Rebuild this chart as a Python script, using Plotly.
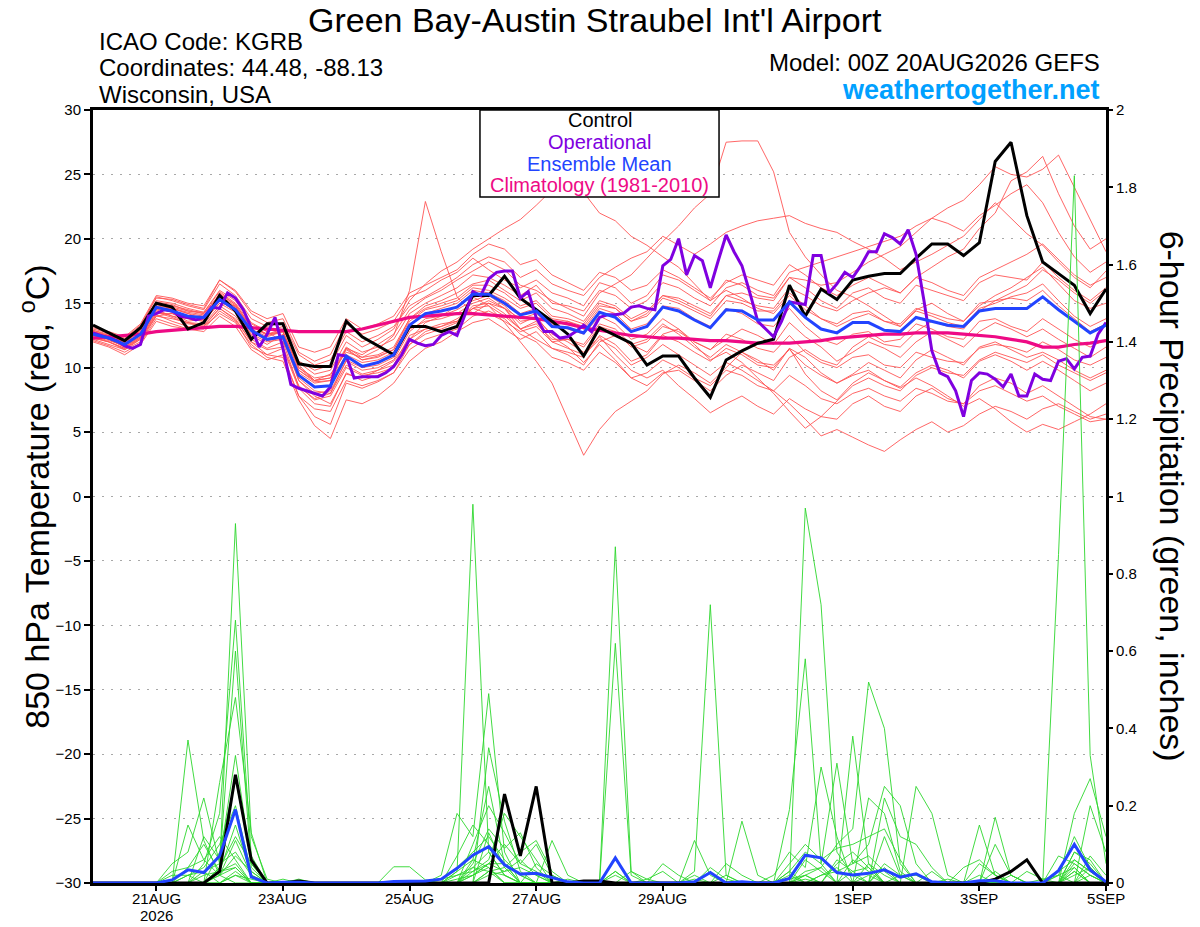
import pandas as pd
import plotly.graph_objects as go

# 6-hourly GEFS steps, 00Z 20AUG2026 .. 00Z 05SEP2026
times = pd.date_range("2026-08-20 00:00", periods=65, freq="6h")
times_op = pd.date_range("2026-08-20 00:00", periods=129, freq="3h")

# 850 hPa temperature (C)
control_t = [13.3, 12.7, 12.1, 13.1, 15.0, 14.7, 13.0, 13.5, 15.6, 14.4,
             12.2, 13.4, 13.4, 10.3, 10.1, 10.1, 13.6, 12.4, 11.7, 11.0,
             13.2, 13.2, 12.8, 13.2, 15.6, 15.6, 17.1, 15.4, 14.5, 13.6,
             12.6, 10.9, 13.1, 12.5, 11.9, 10.2, 10.9, 10.9, 9.2, 7.7,
             10.6, 11.3, 11.9, 12.2, 16.4, 14.0, 16.1, 15.3, 16.8, 17.1,
             17.3, 17.3, 18.5, 19.6, 19.6, 18.7, 19.7, 26.0, 27.5, 21.8,
             18.2, 17.3, 16.4, 14.2, 16.1]

oper_t = [12.7, 12.5, 12.3, 12.1, 11.7, 11.5, 11.8, 14.0, 14.2, 14.5,
          14.4, 14.0, 13.9, 13.7, 13.9, 14.7, 14.6, 15.8, 15.4, 14.5,
          13.1, 11.6, 12.6, 13.9, 11.5, 8.7, 8.4, 8.2, 8.0, 7.8,
          8.5, 11.0, 10.9, 9.2, 9.3, 9.3, 9.3, 9.6, 10.1, 11.0,
          12.2, 11.9, 11.7, 11.8, 12.5, 12.8, 12.5, 14.1, 15.9, 15.6,
          16.9, 17.4, 17.5, 17.5, 15.4, 15.9, 13.9, 12.8, 12.8, 12.3,
          12.4, 12.8, 13.3, 12.8, 13.9, 14.1, 14.1, 14.2, 14.7, 14.8,
          14.6, 14.5, 17.9, 18.4, 20.0, 17.2, 18.7, 18.3, 16.2, 18.3,
          20.3, 19.0, 17.9, 15.8, 13.6, 13.0, 12.4, 13.6, 15.1, 15.0,
          14.9, 18.7, 18.7, 15.8, 16.5, 17.4, 17.0, 17.9, 19.0, 19.0,
          20.4, 20.1, 19.6, 20.7, 18.8, 15.2, 11.3, 9.6, 9.3, 8.2,
          6.2, 9.0, 9.6, 9.5, 9.1, 8.5, 9.5, 7.8, 7.8, 9.5,
          9.1, 9.0, 10.5, 10.7, 9.9, 10.8, 10.9, 12.6, 13.5]

mean_t = [12.6, 12.3, 11.8, 12.6, 14.7, 14.4, 14.0, 13.9, 15.3, 14.5,
          12.9, 12.2, 12.4, 9.4, 8.5, 8.6, 10.9, 10.1, 10.4, 11.0,
          13.3, 14.2, 14.4, 14.7, 15.7, 15.7, 15.0, 14.1, 14.4, 13.2,
          13.1, 12.7, 14.3, 13.9, 12.8, 13.2, 14.7, 14.4, 13.7, 13.1,
          14.5, 14.4, 13.7, 13.7, 15.1, 13.9, 13.0, 12.7, 13.5, 13.5,
          12.9, 12.8, 13.9, 13.6, 13.3, 13.2, 14.4, 14.6, 14.6, 14.6,
          15.5, 14.5, 13.6, 12.7, 13.3]

clim_t = [12.3, 12.4, 12.5, 12.6, 12.8, 12.9, 13.0, 13.1, 13.2, 13.2,
          13.1, 13.0, 12.9, 12.8, 12.8, 12.8, 12.8, 13.0, 13.3, 13.6,
          13.9, 14.0, 14.1, 14.2, 14.2, 14.1, 14.0, 13.9, 13.8, 13.6,
          13.4, 13.1, 12.9, 12.7, 12.5, 12.4, 12.3, 12.3, 12.2, 12.1,
          12.1, 12.0, 11.9, 11.9, 11.9, 12.0, 12.1, 12.3, 12.4, 12.5,
          12.6, 12.6, 12.7, 12.7, 12.7, 12.6, 12.5, 12.4, 12.2, 12.0,
          11.6, 11.6, 11.8, 11.9, 12.1]

member_t = [
    [12.9, 12.5, 12.0, 13.0, 15.2, 15.0, 14.6, 14.3, 16.0, 15.2, 13.5, 12.8, 12.0, 9.8, 8.9,
     9.0, 11.5, 11.0, 11.8, 12.6, 14.5, 15.4, 16.0, 16.8, 17.5, 18.2, 17.6, 16.4, 16.0, 15.2,
     14.6, 14.0, 15.8, 16.5, 17.2, 18.5, 19.8, 21.0, 22.4, 23.5, 27.5, 27.6, 27.6, 25.2, 20.5,
     18.6, 17.2, 16.0, 15.5, 14.8, 14.0, 13.2, 14.5, 15.0, 14.2, 13.6, 14.8, 15.6, 16.2, 17.0,
     17.8, 16.5, 15.2, 14.6, 15.0],
    [12.3, 12.0, 11.5, 12.2, 14.0, 14.2, 13.6, 13.8, 15.0, 14.8, 12.5, 11.8, 12.6, 10.2, 9.0,
     9.5, 11.2, 10.8, 11.4, 12.5, 16.0, 22.9, 19.0, 15.5, 14.2, 15.0, 14.6, 13.0, 12.2, 11.5,
     11.0, 10.2, 12.0, 12.5, 11.8, 11.2, 12.6, 13.0, 12.0, 11.4, 12.2, 13.0, 12.5, 11.8, 13.5,
     12.4, 11.6, 10.5, 11.2, 12.0, 11.5, 10.8, 12.0, 12.8, 12.2, 11.6, 12.8, 13.5, 13.0, 12.4,
     13.0, 12.2, 11.5, 10.8, 11.6],
    [12.8, 12.4, 11.9, 12.9, 14.5, 14.6, 14.2, 13.7, 15.8, 14.9, 13.2, 12.6, 12.8, 9.0, 7.8,
     7.2, 9.5, 9.2, 9.8, 10.5, 12.2, 13.5, 14.0, 14.8, 15.5, 14.8, 13.5, 12.0, 10.5, 8.8,
     6.0, 3.2, 5.2, 6.6, 7.4, 8.2, 9.5, 10.2, 9.6, 8.8, 10.0, 11.2, 10.6, 9.8, 11.5,
     10.8, 9.6, 8.8, 9.5, 10.4, 9.8, 9.2, 10.6, 11.4, 10.8, 10.2, 11.6, 12.0, 11.4, 10.8,
     11.2, 10.6, 9.8, 9.2, 9.8],
    [12.0, 11.6, 11.0, 11.8, 13.6, 13.2, 13.0, 13.2, 14.2, 13.5, 11.8, 10.8, 10.5, 7.5, 5.5,
     4.5, 7.5, 7.2, 7.8, 8.8, 10.5, 11.5, 12.0, 12.8, 13.5, 13.8, 13.0, 12.2, 12.8, 11.5,
     11.2, 10.8, 12.5, 11.8, 10.5, 11.0, 12.5, 12.0, 11.2, 10.5, 11.5, 11.0, 10.2, 10.0, 11.5,
     9.5, 8.2, 7.5, 8.8, 9.6, 9.0, 8.5, 9.6, 10.2, 9.8, 9.2, 10.5, 11.0, 10.5, 9.8,
     10.5, 9.8, 9.0, 8.2, 8.8],
    [12.5, 12.2, 11.6, 12.4, 14.4, 14.0, 13.5, 13.4, 14.8, 14.0, 12.2, 11.5, 12.0, 8.5, 7.6,
     8.0, 10.2, 9.5, 9.8, 10.2, 12.5, 13.0, 13.2, 13.8, 14.6, 14.2, 13.6, 12.8, 13.2, 12.0,
     11.5, 11.0, 12.2, 11.5, 10.2, 10.8, 11.8, 11.0, 10.2, 9.4, 10.4, 9.8, 9.0, 8.2, 7.2,
     6.0, 4.7, 5.2, 4.6, 4.0, 3.5, 4.4, 5.2, 5.8, 5.0, 5.5, 6.4, 7.0, 6.6, 6.0,
     6.8, 7.2, 6.6, 6.0, 6.4],
    [12.7, 12.4, 11.9, 12.7, 15.0, 14.8, 14.5, 14.2, 15.6, 14.8, 13.0, 12.4, 12.8, 10.0, 9.0,
     9.2, 11.5, 10.6, 10.9, 11.4, 13.8, 14.8, 15.2, 15.8, 16.5, 16.8, 16.0, 15.2, 15.8, 14.6,
     14.2, 13.6, 15.2, 14.8, 13.8, 14.4, 15.6, 15.2, 14.6, 14.0, 15.6, 15.2, 14.8, 14.6, 16.2,
     15.6, 14.8, 14.4, 15.2, 15.8, 16.2, 15.8, 17.0, 17.8, 18.6, 19.2, 20.8, 22.0, 24.5, 25.2,
     26.4, 23.5, 21.0, 19.2, 20.0],
    [12.4, 12.1, 11.7, 12.5, 14.8, 14.6, 14.2, 14.0, 15.5, 14.7, 13.2, 12.6, 13.0, 10.5, 9.8,
     10.2, 12.5, 11.6, 12.2, 13.0, 15.2, 16.5, 17.5, 18.2, 19.2, 20.0, 20.8, 21.5, 22.6, 23.8,
     24.2, 23.6, 22.0, 21.4, 20.2, 19.5, 18.6, 17.8, 16.5, 15.2, 16.0, 15.4, 14.6, 14.2, 15.6,
     14.5, 13.8, 13.2, 13.8, 14.2, 13.6, 13.2, 14.4, 14.0, 13.5, 13.2, 14.6, 15.0, 15.5, 15.8,
     16.5, 15.2, 14.0, 13.2, 13.8],
    [12.9, 12.6, 12.2, 13.2, 15.5, 15.2, 14.8, 14.5, 16.5, 15.6, 13.8, 13.2, 13.5, 11.0, 10.2,
     10.6, 12.8, 12.0, 12.5, 13.2, 14.8, 15.5, 16.2, 17.0, 18.0, 18.6, 18.2, 17.0, 17.6, 16.5,
     16.0, 15.6, 17.0, 17.8, 18.5, 19.0, 20.2, 19.5, 18.8, 19.6, 20.5, 21.0, 21.4, 21.6, 21.8,
     21.2, 20.8, 20.5, 19.8, 19.2, 18.5, 17.6, 18.2, 18.8, 19.5, 20.2, 21.5, 22.8, 21.6, 20.4,
     19.5, 18.2, 17.0, 16.2, 17.5],
    [12.2, 11.8, 11.4, 12.0, 14.0, 13.8, 13.5, 13.2, 14.6, 13.8, 12.0, 11.4, 11.6, 8.6, 7.5,
     7.8, 10.0, 9.4, 9.6, 10.0, 12.2, 13.0, 13.4, 13.6, 14.8, 15.0, 14.2, 13.0, 13.6, 12.0,
     12.2, 11.6, 13.2, 12.8, 11.6, 12.0, 13.2, 12.8, 12.0, 11.4, 12.6, 12.2, 11.5, 11.2, 12.5,
     11.2, 10.4, 10.0, 10.8, 11.0, 10.2, 10.0, 11.2, 10.8, 10.5, 10.4, 11.5, 11.8, 11.6, 11.2,
     12.0, 11.4, 10.6, 10.2, 10.8],
    [13.0, 12.7, 12.3, 13.3, 15.4, 15.3, 14.9, 14.6, 16.8, 15.9, 14.2, 13.5, 13.8, 11.2, 10.5,
     11.0, 13.4, 12.6, 13.0, 13.6, 15.5, 16.0, 16.8, 17.4, 18.5, 17.6, 16.8, 16.2, 16.8, 15.8,
     15.4, 14.8, 16.6, 16.2, 15.0, 15.6, 17.2, 16.8, 16.0, 15.2, 16.8, 16.4, 15.6, 15.4, 17.0,
     16.2, 15.2, 14.6, 15.8, 16.2, 15.4, 15.0, 16.4, 16.0, 15.6, 15.2, 16.6, 17.2, 17.0, 16.8,
     18.2, 17.0, 16.0, 15.2, 16.2],
    [12.6, 12.2, 11.7, 12.4, 14.5, 14.0, 13.8, 13.6, 15.0, 14.3, 12.6, 12.0, 12.2, 9.0, 8.0,
     8.2, 10.5, 9.8, 10.0, 10.6, 12.8, 13.8, 14.0, 14.5, 15.2, 15.6, 14.8, 13.6, 13.8, 12.6,
     12.0, 11.2, 12.4, 11.0, 9.8, 9.2, 9.8, 8.6, 7.6, 6.5, 7.2, 7.8, 7.0, 6.4, 7.6,
     6.8, 6.2, 6.0, 7.2, 7.8, 7.0, 6.6, 7.8, 8.4, 7.6, 7.2, 8.6, 9.2, 8.8, 8.0,
     8.6, 7.8, 7.0, 6.2, 6.0],
    [12.8, 12.5, 12.1, 13.1, 15.1, 14.9, 14.4, 14.3, 15.9, 15.0, 13.4, 12.8, 13.2, 10.4, 9.5,
     9.8, 12.0, 11.2, 11.6, 12.2, 14.2, 15.0, 15.6, 16.2, 17.2, 17.0, 16.4, 15.6, 16.4, 15.0,
     14.8, 14.4, 16.0, 15.6, 14.6, 15.2, 16.6, 16.2, 15.4, 14.8, 16.2, 16.6, 16.0, 15.6, 17.4,
     17.8, 18.2, 18.6, 19.0, 19.4, 19.8, 20.2, 21.0, 21.6, 21.2, 20.6, 21.8, 22.6, 23.5, 24.2,
     22.8, 20.5, 18.6, 17.4, 18.2],
    [12.5, 12.2, 11.6, 12.3, 14.2, 14.2, 13.8, 13.6, 15.2, 14.4, 12.8, 12.1, 12.3, 9.2, 8.2,
     8.0, 10.6, 10.0, 10.2, 10.8, 13.0, 13.6, 13.8, 14.2, 15.0, 15.4, 14.6, 13.4, 14.0, 12.4,
     11.6, 10.4, 11.8, 10.6, 9.2, 8.6, 9.6, 9.8, 9.0, 8.2, 9.4, 10.2, 9.6, 9.0, 10.8,
     11.4, 10.6, 10.2, 11.6, 12.4, 11.8, 11.6, 12.8, 13.6, 13.2, 13.0, 14.4, 15.2, 15.8, 16.4,
     17.6, 16.8, 15.8, 15.0, 16.0],
    [12.3, 12.0, 11.5, 12.3, 14.3, 13.9, 13.4, 13.3, 14.6, 13.7, 12.0, 11.0, 10.8, 7.8, 6.2,
     5.6, 8.8, 8.4, 8.9, 9.6, 11.8, 12.6, 13.0, 13.5, 14.6, 15.2, 14.6, 13.8, 14.2, 13.2,
     13.6, 13.0, 14.6, 14.2, 13.0, 13.4, 14.8, 14.6, 13.8, 13.2, 14.6, 14.2, 13.4, 13.2, 14.6,
     13.2, 12.2, 11.8, 12.6, 12.8, 12.0, 12.2, 13.4, 13.0, 12.4, 12.2, 13.6, 13.8, 13.2, 12.8,
     13.8, 13.0, 12.2, 11.6, 12.2],
    [12.7, 12.5, 12.0, 12.8, 14.9, 14.6, 14.3, 14.1, 15.4, 14.6, 13.2, 12.5, 12.8, 9.8, 9.0,
     9.2, 11.4, 10.6, 10.8, 11.4, 13.6, 14.5, 14.8, 15.2, 16.2, 16.0, 15.4, 14.6, 15.0, 13.8,
     13.6, 13.2, 14.8, 14.6, 13.6, 14.0, 15.4, 15.0, 14.4, 13.8, 15.2, 15.0, 14.4, 14.4, 15.8,
     14.8, 13.8, 13.4, 14.2, 14.4, 13.6, 13.4, 14.6, 14.2, 13.8, 13.6, 15.0, 15.2, 15.4, 15.2,
     16.0, 14.8, 13.8, 12.8, 13.4],
    [12.6, 12.3, 11.9, 12.6, 14.6, 14.3, 13.9, 13.8, 15.2, 14.4, 12.8, 12.2, 12.5, 9.6, 8.8,
     9.0, 11.0, 10.4, 10.6, 11.2, 13.4, 14.2, 14.6, 15.0, 16.0, 15.8, 15.2, 14.2, 14.6, 13.4,
     13.0, 12.6, 14.0, 13.4, 12.2, 12.6, 13.8, 13.0, 11.8, 10.6, 11.2, 10.4, 9.2, 8.0, 6.6,
     5.3, 6.2, 7.4, 8.6, 9.2, 8.6, 8.2, 9.4, 10.0, 9.6, 9.4, 10.6, 11.2, 10.8, 10.4,
     11.0, 10.2, 9.6, 9.0, 9.6],
    [12.8, 12.4, 12.0, 12.9, 15.0, 14.7, 14.4, 14.2, 15.7, 14.9, 13.2, 12.6, 12.8, 10.0, 9.2,
     9.4, 11.6, 10.8, 11.0, 11.6, 13.8, 14.6, 15.0, 15.4, 16.4, 16.4, 15.8, 14.8, 15.2, 14.0,
     13.8, 13.4, 15.0, 14.6, 13.6, 14.2, 15.6, 15.4, 14.8, 14.2, 15.6, 15.8, 15.4, 15.2, 17.0,
     16.8, 16.4, 16.6, 17.4, 18.2, 18.8, 19.4, 20.5, 21.6, 22.4, 23.0, 24.2, 25.6, 25.0, 24.8,
     25.4, 26.5, 24.0, 21.5, 19.0],
    [12.4, 12.0, 11.4, 12.2, 14.1, 13.6, 13.2, 13.0, 14.4, 13.6, 11.6, 11.0, 11.5, 8.4, 7.2,
     7.0, 9.6, 9.0, 9.4, 10.0, 11.8, 12.8, 13.2, 13.6, 14.6, 14.8, 14.0, 13.0, 13.4, 12.2,
     12.2, 11.8, 13.4, 13.0, 11.8, 12.2, 13.4, 12.6, 11.6, 10.8, 11.8, 11.2, 10.4, 10.2, 11.4,
     10.2, 9.4, 8.8, 9.4, 9.8, 9.0, 8.4, 9.2, 8.6, 7.8, 7.0, 7.6, 6.8, 5.8, 5.0,
     5.6, 5.2, 5.8, 6.4, 7.2],
    [13.1, 12.8, 12.4, 13.4, 15.6, 15.4, 15.0, 14.8, 16.8, 16.0, 14.4, 13.8, 14.2, 11.6, 11.2,
     11.6, 13.8, 13.0, 13.4, 14.0, 15.8, 16.4, 17.0, 17.6, 18.8, 19.6, 19.2, 18.0, 18.4, 17.2,
     16.6, 16.0, 17.4, 17.0, 16.0, 16.4, 17.6, 17.0, 16.2, 15.4, 16.6, 17.2, 16.8, 16.4, 18.0,
     17.2, 16.2, 15.6, 16.4, 17.0, 16.4, 15.8, 17.0, 16.6, 16.0, 15.6, 17.0, 17.6, 18.2, 18.8,
     19.6, 18.4, 17.2, 16.4, 17.0],
    [12.1, 11.7, 11.2, 11.9, 13.8, 13.4, 13.0, 12.8, 14.0, 13.2, 11.4, 10.6, 11.0, 7.8, 6.8,
     6.6, 9.0, 8.6, 9.0, 9.6, 11.4, 12.2, 12.6, 13.0, 14.0, 14.4, 13.8, 12.6, 12.0, 10.8,
     10.4, 9.8, 11.2, 10.4, 9.2, 9.6, 10.6, 10.0, 9.2, 8.6, 9.8, 9.4, 8.6, 8.2, 9.4,
     8.6, 7.6, 7.2, 8.0, 8.4, 7.8, 7.4, 8.4, 8.0, 7.4, 7.2, 8.2, 8.6, 8.0, 7.4,
     7.8, 7.0, 6.4, 5.8, 6.0],
]

# 6-hour precipitation (inches)
control_p = [0, 0, 0, 0, 0, 0, 0, 0, 0.03, 0.28,
             0.06, 0, 0, 0.005, 0, 0, 0, 0, 0, 0,
             0, 0, 0, 0, 0, 0, 0.23, 0.07, 0.25, 0,
             0, 0.005, 0.005, 0, 0, 0, 0, 0, 0, 0,
             0, 0, 0, 0, 0, 0, 0, 0, 0, 0,
             0, 0, 0, 0, 0, 0, 0, 0.01, 0.03, 0.06,
             0, 0, 0, 0, 0]

mean_p = [0, 0, 0, 0, 0, 0.008, 0.034, 0.027, 0.07, 0.19,
          0.016, 0, 0.002, 0.002, 0, 0, 0, 0, 0, 0.004,
          0.004, 0.005, 0.01, 0.038, 0.072, 0.094, 0.047, 0.023, 0.025, 0.014,
          0.003, 0, 0, 0.065, 0, 0, 0, 0, 0.003, 0.027,
          0, 0.003, 0, 0, 0.012, 0.072, 0.065, 0.027, 0.021, 0.025,
          0.034, 0.015, 0.024, 0.003, 0, 0, 0.006, 0.006, 0, 0,
          0, 0.032, 0.10, 0.034, 0.003]

member_p = [
    [0, 0, 0, 0, 0, 0, 0, 0, .04, .93, .12, .01, 0, 0, 0, 0, 0, 0, 0, 0, 0, 0, 0, 0, .06,
     .25, .05, 0, 0, 0, 0, 0, 0, 0, 0, 0, 0, 0, 0, 0, 0, 0, 0, 0, 0, .97, .72, .08, .02, 0,
     0, 0, 0, 0, 0, 0, 0, 0, 0, 0, 0, 0, 0, .04, 0],
    [0, 0, 0, 0, 0, 0, 0, .05, .18, .68, .07, 0, 0, 0, 0, 0, 0, 0, 0, 0, 0, 0, 0, 0, 0,
     .35, .16, .03, 0, 0, 0, 0, 0, .87, .03, 0, 0, 0, 0, 0, 0, 0, 0, 0, .02, 0, 0, 0, 0, .05,
     .02, 0, 0, 0, 0, 0, 0, 0, 0, 0, 0, 0, .04, 0, 0],
    [0, 0, 0, 0, 0, 0, .37, .11, .02, 0, 0, 0, 0, 0, 0, 0, 0, 0, 0, 0, 0, 0, 0, .03, .98,
     .08, .02, 0, 0, 0, 0, 0, 0, 0, 0, 0, 0, 0, .03, .72, .02, 0, 0, 0, 0, 0, 0, 0, 0, 0,
     0, 0, 0, 0, 0, 0, .15, .02, 0, 0, 0, 0, 0, 0, 0],
    [0, 0, 0, 0, 0, 0, 0, 0, .26, .48, .13, 0, 0, 0, 0, 0, 0, 0, 0, 0, 0, 0, .02, .18, .12,
     .49, .08, 0, 0, 0, 0, 0, 0, 0, 0, 0, 0, 0, 0, 0, 0, 0, 0, 0, 0, 0, 0, 0, 0, 0,
     0, 0, 0, 0, 0, 0, 0, 0, 0, 0, 0, .85, 1.83, .33, .05],
    [0, 0, 0, 0, 0, .05, .08, .22, .05, .60, .04, 0, 0, 0, 0, 0, 0, 0, 0, 0, 0, 0, 0, 0, .10,
     .20, .13, .05, .10, .02, 0, 0, 0, 0, 0, 0, 0, 0, 0, 0, 0, 0, 0, 0, .19, .58, .05, .31, .05, .10,
     .25, .20, .05, 0, 0, 0, 0, 0, 0, 0, 0, 0, 0, .20, .08],
    [0, 0, 0, 0, 0, 0, .15, .06, .02, .11, .02, 0, 0, 0, 0, 0, 0, 0, 0, .042, .042, .008, 0, 0, 0,
     .13, .04, 0, 0, .11, .02, 0, 0, .62, .02, 0, 0, 0, .11, .02, 0, 0, 0, 0, 0, 0, 0, 0, .38, .05,
     0, 0, .25, .18, .02, 0, 0, 0, 0, 0, 0, 0, .18, .27, .12],
    [0, 0, 0, 0, 0, 0, 0, .12, .06, .33, .05, 0, 0, 0, 0, 0, 0, 0, 0, 0, 0, 0, 0, 0, .05,
     .14, .09, .13, .04, 0, 0, 0, 0, 0, 0, 0, 0, 0, 0, 0, 0, .16, .02, 0, 0, .02, .04, .10, .14, .52,
     .40, .05, 0, 0, 0, 0, 0, 0, 0, 0, 0, .07, .05, .02, 0],
    [0, 0, 0, 0, 0, 0, 0, 0, .08, .27, .06, 0, 0, 0, 0, 0, 0, 0, 0, 0, 0, 0, 0, .07, .15,
     .10, .05, 0, 0, 0, 0, 0, 0, 0, 0, 0, 0, 0, 0, 0, .05, .02, 0, 0, .05, .10, .06, .09, .10, .12,
     .14, .06, 0, 0, 0, 0, 0, .17, .02, 0, 0, 0, .08, .06, 0],
    [0, 0, 0, 0, 0, 0, .02, .04, .10, .20, .03, 0, 0, 0, 0, 0, 0, 0, 0, 0, 0, 0, .01, .04, .08,
     .12, .06, .02, 0, 0, 0, 0, 0, 0, 0, 0, .05, .02, 0, 0, 0, 0, 0, .02, .08, .04, .30, .12, 0, .22,
     .18, .03, 0, 0, 0, 0, 0, .10, .02, 0, 0, .03, .06, .03, 0],
    [0, 0, 0, 0, 0, 0, 0, 0, .03, .15, .02, 0, 0, 0, 0, 0, 0, 0, 0, 0, 0, 0, 0, 0, .03,
     .06, .18, .12, .06, 0, 0, 0, 0, 0, .03, .01, 0, 0, 0, 0, 0, 0, 0, 0, 0, 0, 0, .05, .08, .04,
     0, 0, 0, 0, 0, .04, .06, .02, 0, 0, 0, 0, .08, .05, 0],
    [0, 0, 0, 0, 0, 0, 0, .03, .05, .08, .02, 0, .01, 0, 0, 0, 0, 0, 0, 0, 0, 0, 0, .02, .04,
     .08, .02, 0, 0, 0, 0, 0, 0, .03, 0, 0, 0, 0, 0, 0, 0, 0, 0, 0, 0, .03, .04, 0, 0, 0,
     .12, .02, 0, 0, 0, 0, 0, 0, 0, .03, .01, 0, .03, 0, 0],
    [0, 0, 0, 0, 0, .03, .04, .06, .12, .06, 0, 0, 0, 0, 0, 0, 0, 0, 0, 0, 0, 0, 0, 0, .02,
     .05, .10, .05, .03, 0, 0, 0, 0, 0, 0, 0, 0, 0, 0, .04, .01, 0, 0, 0, .03, .08, .05, 0, 0, 0,
     .22, .12, .10, .04, 0, 0, 0, 0, 0, 0, 0, .02, .12, .04, 0],
    [0, 0, 0, 0, 0, 0, 0, 0, .04, .12, .05, 0, 0, 0, 0, 0, 0, 0, 0, 0, 0, 0, 0, 0, 0,
     .03, .04, .08, .11, .03, 0, 0, 0, 0, 0, .01, .03, 0, 0, 0, 0, 0, 0, 0, 0, 0, 0, .06, .03, .04,
     0, 0, 0, 0, 0, 0, .05, .02, 0, 0, 0, 0, .02, .04, 0],
    [0, 0, 0, 0, 0, 0, .04, .10, .03, .04, 0, 0, 0, 0, 0, 0, 0, 0, 0, 0, 0, 0, 0, .03, .06,
     .04, 0, 0, 0, 0, 0, 0, 0, .02, 0, 0, 0, 0, 0, 0, 0, 0, 0, 0, 0, 0, .02, .03, .05, .07,
     .03, 0, 0, 0, 0, 0, 0, 0, .02, 0, 0, 0, .06, .03, 0],
    [0, 0, 0, 0, 0, 0, 0, 0, .02, .07, .03, 0, 0, 0, 0, 0, 0, 0, 0, 0, 0, 0, .01, .02, .03,
     .05, .03, .04, .02, 0, 0, 0, 0, 0, 0, 0, 0, 0, 0, 0, 0, 0, 0, 0, .01, .02, 0, 0, .03, 0,
     0, .02, .02, 0, 0, 0, 0, 0, 0, 0, 0, .02, .04, 0, 0],
    [0, 0, 0, 0, 0, 0, 0, .02, .03, .05, 0, 0, 0, 0, 0, 0, 0, 0, 0, 0, 0, 0, 0, 0, .04,
     .03, .02, 0, 0, 0, .01, 0, 0, 0, 0, 0, 0, 0, .02, 0, 0, 0, 0, 0, 0, .06, .03, 0, 0, .02,
     0, 0, 0, .03, 0, 0, 0, .03, 0, 0, 0, 0, 0, .07, .02],
    [0, 0, 0, 0, 0, 0, 0, 0, 0, .02, .01, 0, 0, 0, 0, 0, 0, 0, 0, 0, 0, 0, 0, .01, .02,
     .05, .05, .02, 0, 0, 0, 0, 0, 0, 0, 0, 0, 0, 0, 0, .02, 0, 0, 0, 0, 0, .02, .04, 0, 0,
     .05, .02, 0, 0, 0, 0, 0, 0, 0, 0, 0, 0, .03, 0, 0],
    [0, 0, 0, 0, 0, 0, 0, 0, .02, .04, 0, 0, 0, 0, 0, 0, 0, 0, 0, 0, 0, 0, 0, 0, 0,
     .02, .03, .06, .02, 0, 0, 0, 0, .03, 0, 0, 0, 0, 0, 0, 0, 0, 0, 0, 0, .01, 0, 0, .06, .03,
     0, 0, 0, 0, 0, 0, 0, 0, 0, 0, .01, .02, 0, 0, 0],
    [0, 0, 0, 0, 0, 0, .02, .03, 0, .03, 0, 0, 0, 0, 0, 0, 0, 0, 0, 0, 0, 0, 0, 0, .02,
     .04, 0, 0, 0, 0, 0, 0, 0, 0, 0, 0, 0, 0, 0, 0, 0, 0, 0, 0, 0, .02, 0, 0, 0, 0,
     .04, 0, 0, 0, 0, 0, .02, 0, 0, 0, 0, 0, 0, .02, 0],
    [0, 0, 0, 0, 0, .02, .02, 0, 0, .02, 0, 0, 0, .01, 0, 0, 0, 0, 0, 0, 0, 0, 0, 0, 0,
     .03, 0, 0, .05, .02, 0, 0, 0, 0, 0, 0, 0, 0, .01, 0, 0, 0, 0, 0, .03, 0, 0, 0, 0, 0,
     0, 0, 0, 0, .01, 0, 0, 0, 0, 0, 0, 0, .05, .02, 0],
]

tick_dates = ["2026-08-21", "2026-08-23", "2026-08-25", "2026-08-27",
              "2026-08-29", "2026-09-01", "2026-09-03", "2026-09-05"]
tick_labels = ["21AUG", "23AUG", "25AUG", "27AUG", "29AUG", "1SEP", "3SEP", "5SEP"]
year_label = "2026"
temp_ticks = [-30, -25, -20, -15, -10, -5, 0, 5, 10, 15, 20, 25, 30]
precip_ticks = [0, 0.2, 0.4, 0.6, 0.8, 1, 1.2, 1.4, 1.6, 1.8, 2]
precip_labels = ["0", "0.2", "0.4", "0.6", "0.8", "1", "1.2", "1.4", "1.6", "1.8", "2"]

for row in member_t + member_p + [control_t, mean_t, clim_t, control_p, mean_p]:
    assert len(row) == 65, len(row)
assert len(oper_t) == 129

FONT = "Liberation Sans, Arial, Helvetica, sans-serif"
RED = "rgb(255,85,85)"
GREEN = "rgb(45,215,45)"
PURPLE = "#8000e0"
BLUE = "#2244ff"
MAGENTA = "#ee0a85"

fig = go.Figure()

for m in member_t:
    fig.add_trace(go.Scatter(x=times, y=m, mode="lines", line=dict(color=RED, width=0.9),
                             showlegend=False, hoverinfo="skip"))
for m in member_p:
    fig.add_trace(go.Scatter(x=times, y=m, mode="lines", yaxis="y2",
                             line=dict(color=GREEN, width=0.9),
                             showlegend=False, hoverinfo="skip"))

fig.add_trace(go.Scatter(x=times, y=clim_t, mode="lines", line=dict(color=MAGENTA, width=3.2),
                         showlegend=False))
fig.add_trace(go.Scatter(x=times, y=control_p, mode="lines", yaxis="y2",
                         line=dict(color="black", width=3), showlegend=False))
fig.add_trace(go.Scatter(x=times, y=mean_p, mode="lines", yaxis="y2",
                         line=dict(color=BLUE, width=3), showlegend=False))
fig.add_trace(go.Scatter(x=times, y=control_t, mode="lines", line=dict(color="black", width=3),
                         showlegend=False))
fig.add_trace(go.Scatter(x=times_op, y=oper_t, mode="lines", line=dict(color=PURPLE, width=3),
                         showlegend=False))
fig.add_trace(go.Scatter(x=times, y=mean_t, mode="lines", line=dict(color=BLUE, width=3),
                         showlegend=False))

fig.update_layout(
    width=1200, height=927,
    margin=dict(l=93, r=94, t=110, b=44),
    paper_bgcolor="white", plot_bgcolor="white",
    font=dict(family=FONT, color="black", size=15),
    showlegend=False,
    xaxis=dict(type="date", range=["2026-08-20", "2026-09-05"], automargin=False,
               tickvals=tick_dates, showticklabels=False,
               ticks="outside", ticklen=5, tickwidth=1.5, tickcolor="black",
               showgrid=False, zeroline=False,
               showline=True, linewidth=3, linecolor="black", mirror=True),
    yaxis=dict(range=[-30, 30], tickvals=temp_ticks, automargin=False,
               ticks="outside", ticklen=6, tickwidth=1.5, tickcolor="black",
               showgrid=True, gridcolor="#a8a8a8", gridwidth=1.2, griddash="2px,7px",
               zeroline=False, showline=True, linewidth=3, linecolor="black", mirror=True,
               tickfont=dict(size=15)),
    yaxis2=dict(range=[0, 2], overlaying="y", side="right", automargin=False,
                tickvals=precip_ticks, ticktext=precip_labels,
                ticks="outside", ticklen=6, tickwidth=1.5, tickcolor="black",
                showgrid=False, zeroline=False, showline=False,
                tickfont=dict(size=15)),
)

# date labels under the axis
for d, lab in zip(tick_dates, tick_labels):
    fig.add_annotation(xref="x", yref="paper", x=d, y=-0.0195, text=lab, showarrow=False,
                       xanchor="center", yanchor="middle", font=dict(size=15))
fig.add_annotation(xref="x", yref="paper", x=tick_dates[0], y=-0.0415, text=year_label,
                   showarrow=False, xanchor="center", yanchor="middle", font=dict(size=15))

# legend box
fig.add_shape(type="rect", xref="paper", yref="paper",
              x0=0.382, x1=0.618, y0=0.8875, y1=1.0,
              line=dict(color="black", width=1.5), fillcolor="white", layer="above")
legend_items = [("Control", "black"), ("Operational", PURPLE),
                ("Ensemble Mean", BLUE), ("Climatology (1981-2010)", MAGENTA)]
for k, (txt, col) in enumerate(legend_items):
    fig.add_annotation(xref="paper", yref="paper", x=0.5, y=0.987 - k * 0.0282,
                       text=txt, showarrow=False, xanchor="center", yanchor="middle",
                       font=dict(size=20, color=col))

# header texts
fig.add_annotation(xref="paper", yref="paper", x=0.4955, y=1.117,
                   text="Green Bay-Austin Straubel Int'l Airport", showarrow=False,
                   xanchor="center", yanchor="middle", font=dict(size=34))
for k, txt in enumerate(["ICAO Code: KGRB", "Coordinates: 44.48, -88.13", "Wisconsin, USA"]):
    fig.add_annotation(xref="paper", yref="paper", x=0.004, y=1.0885 - k * 0.0340,
                       text=txt, showarrow=False, xanchor="left", yanchor="middle",
                       font=dict(size=24))
fig.add_annotation(xref="paper", yref="paper", x=0.9965, y=1.0615,
                   text="Model: 00Z 20AUG2026 GEFS", showarrow=False,
                   xanchor="right", yanchor="middle", font=dict(size=24))
fig.add_annotation(xref="paper", yref="paper", x=0.9965, y=1.0265,
                   text="<b>weathertogether.net</b>", showarrow=False,
                   xanchor="right", yanchor="middle", font=dict(size=27, color="#00a0ff"))

# axis titles
fig.add_annotation(xref="paper", yref="paper", x=-0.058, y=0.5, textangle=-90,
                   text="850 hPa Temperature (red, <sup>o</sup>C)", showarrow=False,
                   xanchor="center", yanchor="middle", font=dict(size=34))
fig.add_annotation(xref="paper", yref="paper", x=1.066, y=0.5, textangle=90,
                   text="6-hour Precipitation (green, inches)", showarrow=False,
                   xanchor="center", yanchor="middle", font=dict(size=34))

fig.write_html("out.html", config={"displayModeBar": False},
               post_script="document.body.style.margin='0';")
